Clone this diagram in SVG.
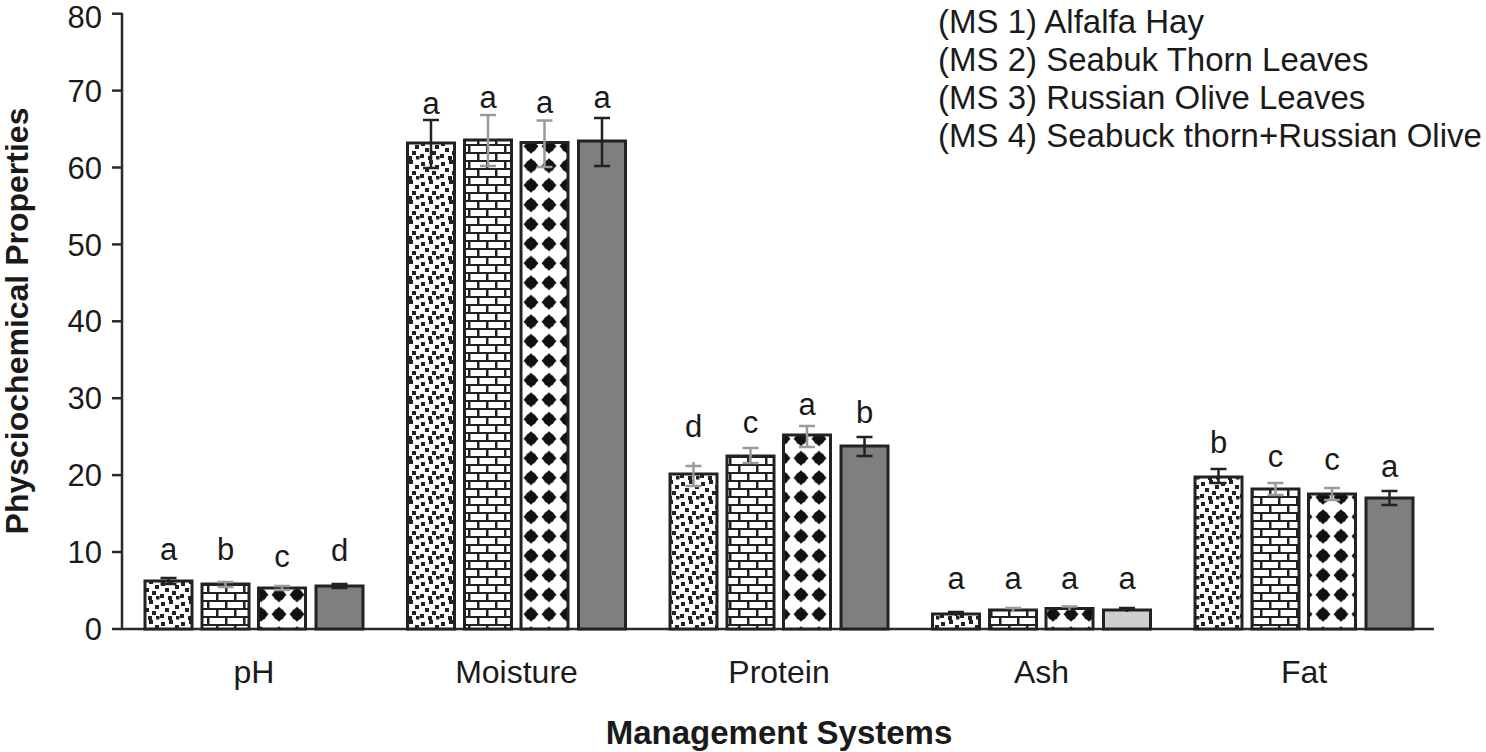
<svg xmlns="http://www.w3.org/2000/svg" width="1486" height="752" viewBox="0 0 1486 752">
<style>
text{font-family:"Liberation Sans",Arial,sans-serif;fill:#1a1a1a}
.tick{font-size:31px;text-anchor:end}
.cat{font-size:32px;text-anchor:middle}
.lbl{font-size:31px;text-anchor:middle}
.leg{font-size:33px}
.title{font-size:33px;font-weight:bold;text-anchor:middle}
.axis{stroke:#2a2a2a;stroke-width:2.5;fill:none}
.bar{stroke:#222;stroke-width:3}
.eb{stroke:#222;stroke-width:2.5;fill:none}
.eg{stroke:#9a9a9a;stroke-width:2.5;fill:none}
</style>
<defs>
<pattern id="p1" patternUnits="userSpaceOnUse" width="20" height="20">
<rect width="20" height="20" fill="#fff"/>
<g fill="#222">
<rect x="1" y="2" width="4" height="4"/>
<rect x="9" y="0" width="4" height="4"/>
<rect x="15" y="5" width="4" height="4"/>
<rect x="5" y="8" width="4" height="4"/>
<rect x="12" y="11" width="4" height="4"/>
<rect x="0" y="14" width="4" height="4"/>
<rect x="8" y="16" width="4" height="4"/>
<rect x="16" y="16" width="3.5" height="3.5"/>
</g>
</pattern>
<pattern id="p2" patternUnits="userSpaceOnUse" width="36" height="16">
<rect width="36" height="16" fill="#fff"/>
<g fill="#222">
<rect x="0" y="0" width="36" height="2"/>
<rect x="0" y="8" width="36" height="2"/>
<rect x="0" y="0" width="2.5" height="8"/>
<rect x="18" y="0" width="2.5" height="8"/>
<rect x="9" y="8" width="2.5" height="8"/>
<rect x="27" y="8" width="2.5" height="8"/>
</g>
</pattern>
<pattern id="p3" patternUnits="userSpaceOnUse" width="18" height="19.5">
<rect width="18" height="19.5" fill="#fff"/>
<g fill="#111" transform="translate(9 9.75)">
<circle r="5.8"/>
<path d="M0,-7.6 L2.6,-4.8 L4.8,-2.6 L7.6,0 L4.8,2.6 L2.6,4.8 L0,7.6 L-2.6,4.8 L-4.8,2.6 L-7.6,0 L-4.8,-2.6 L-2.6,-4.8Z"/>
</g>
</pattern>
</defs>

<g id="axes">
<line class="axis" x1="122" y1="13" x2="122" y2="629"/>
<line class="axis" x1="112" y1="629" x2="1434" y2="629"/>
<g class="axis">
<line x1="112" y1="13.7" x2="122" y2="13.7"/>
<line x1="112" y1="90.6" x2="122" y2="90.6"/>
<line x1="112" y1="167.5" x2="122" y2="167.5"/>
<line x1="112" y1="244.4" x2="122" y2="244.4"/>
<line x1="112" y1="321.3" x2="122" y2="321.3"/>
<line x1="112" y1="398.2" x2="122" y2="398.2"/>
<line x1="112" y1="475.1" x2="122" y2="475.1"/>
<line x1="112" y1="552" x2="122" y2="552"/>
</g>
<text class="tick" x="102" y="28.3">80</text>
<text class="tick" x="102" y="101.7">70</text>
<text class="tick" x="102" y="178.6">60</text>
<text class="tick" x="102" y="255.5">50</text>
<text class="tick" x="102" y="332.4">40</text>
<text class="tick" x="102" y="409.3">30</text>
<text class="tick" x="102" y="486.2">20</text>
<text class="tick" x="102" y="563.1">10</text>
<text class="tick" x="102" y="640">0</text>
<text class="title" style="font-size:32px" transform="rotate(-90 28 321)" x="28" y="321">Physciochemical Properties</text>
<text class="title" x="779" y="744">Management Systems</text>
</g>

<g id="legend">
<text class="leg" x="938" y="33">(MS 1) Alfalfa Hay</text>
<text class="leg" x="938" y="71">(MS 2) Seabuk Thorn Leaves</text>
<text class="leg" x="938" y="109">(MS 3) Russian Olive Leaves</text>
<text class="leg" x="938" y="147">(MS 4) Seabuck thorn+Russian Olive</text>
</g>

<g id="group-pH">
<rect class="bar" x="145" y="581" width="47" height="48" fill="url(#p1)"/>
<rect class="bar" x="202" y="584" width="47" height="45" fill="url(#p2)"/>
<rect class="bar" x="258.5" y="588" width="47" height="41" fill="url(#p3)"/>
<rect class="bar" x="316" y="586" width="47" height="43" fill="#7f7f7f"/>
<path class="eb" d="M168.5,578V584M160.5,578H176.5M160.5,584H176.5"/>
<path class="eg" d="M225.5,582V587M217.5,582H233.5M217.5,587H233.5"/>
<path class="eg" d="M282,586V590M274,586H290M274,590H290"/>
<path class="eb" d="M339.5,584V588M331.5,584H347.5M331.5,588H347.5"/>
<text class="lbl" x="168.5" y="560">a</text>
<text class="lbl" x="225.5" y="560">b</text>
<text class="lbl" x="282" y="567">c</text>
<text class="lbl" x="339.5" y="561">d</text>
<text class="cat" x="254" y="683">pH</text>
</g>

<g id="group-Moisture">
<rect class="bar" x="407.5" y="143" width="47" height="486" fill="url(#p1)"/>
<rect class="bar" x="464.5" y="140" width="47" height="489" fill="url(#p2)"/>
<rect class="bar" x="521" y="142.5" width="47" height="486.5" fill="url(#p3)"/>
<rect class="bar" x="578.5" y="141" width="47" height="488" fill="#7f7f7f"/>
<path class="eb" d="M431,120V168M423,120H439M423,168H439"/>
<path class="eg" d="M488,115V166M480,115H496M480,166H496"/>
<path class="eg" d="M544.5,120.5V167M536.5,120.5H552.5M536.5,167H552.5"/>
<path class="eb" d="M602,118V166M594,118H610M594,166H610"/>
<text class="lbl" x="431" y="114">a</text>
<text class="lbl" x="488" y="108">a</text>
<text class="lbl" x="544.5" y="113">a</text>
<text class="lbl" x="602" y="108">a</text>
<text class="cat" x="516.5" y="683">Moisture</text>
</g>

<g id="group-Protein">
<rect class="bar" x="670" y="474" width="47" height="155" fill="url(#p1)"/>
<rect class="bar" x="727" y="456" width="47" height="173" fill="url(#p2)"/>
<rect class="bar" x="783.5" y="435" width="47" height="194" fill="url(#p3)"/>
<rect class="bar" x="841" y="446" width="47" height="183" fill="#7f7f7f"/>
<path class="eg" d="M693.5,462V486M685.5,466H701.5M685.5,486H701.5"/>
<path class="eg" d="M750.5,448V463M742.5,448H758.5M742.5,463H758.5"/>
<path class="eg" d="M807,426V447M799,426H815M799,447H815"/>
<path class="eb" d="M864.5,437V456M856.5,437H872.5M856.5,456H872.5"/>
<text class="lbl" x="693.5" y="437">d</text>
<text class="lbl" x="750.5" y="433">c</text>
<text class="lbl" x="807" y="415">a</text>
<text class="lbl" x="864.5" y="423">b</text>
<text class="cat" x="779" y="683">Protein</text>
</g>

<g id="group-Ash">
<rect class="bar" x="932.5" y="614" width="47" height="15" fill="url(#p1)"/>
<rect class="bar" x="989.5" y="610" width="47" height="19" fill="url(#p2)"/>
<rect class="bar" x="1046" y="608.5" width="47" height="20.5" fill="url(#p3)"/>
<rect class="bar" x="1103.5" y="610" width="47" height="19" fill="#cfcfcf"/>
<path class="eb" d="M956,612V616M948,612H964"/>
<path class="eg" d="M1013,608V612M1005,608H1021"/>
<path class="eg" d="M1069.5,606.5V610.5M1061.5,606.5H1077.5"/>
<path class="eb" d="M1127,608V612M1119,608H1135"/>
<text class="lbl" x="956" y="589">a</text>
<text class="lbl" x="1013" y="589">a</text>
<text class="lbl" x="1069.5" y="589">a</text>
<text class="lbl" x="1127" y="589">a</text>
<text class="cat" x="1041.5" y="683">Ash</text>
</g>

<g id="group-Fat">
<rect class="bar" x="1195" y="477" width="47" height="152" fill="url(#p1)"/>
<rect class="bar" x="1252" y="489" width="47" height="140" fill="url(#p2)"/>
<rect class="bar" x="1308.5" y="494" width="47" height="135" fill="url(#p3)"/>
<rect class="bar" x="1366" y="498" width="47" height="131" fill="#7f7f7f"/>
<path class="eb" d="M1218.5,469V483M1210.5,469H1226.5M1210.5,483H1226.5"/>
<path class="eg" d="M1275.5,483V495M1267.5,483H1283.5M1267.5,495H1283.5"/>
<path class="eg" d="M1332,488V500M1324,488H1340M1324,500H1340"/>
<path class="eb" d="M1389.5,491V505M1381.5,491H1397.5M1381.5,505H1397.5"/>
<text class="lbl" x="1218.5" y="453">b</text>
<text class="lbl" x="1275.5" y="467">c</text>
<text class="lbl" x="1332" y="470">c</text>
<text class="lbl" x="1389.5" y="477">a</text>
<text class="cat" x="1304" y="683">Fat</text>
</g>
</svg>
